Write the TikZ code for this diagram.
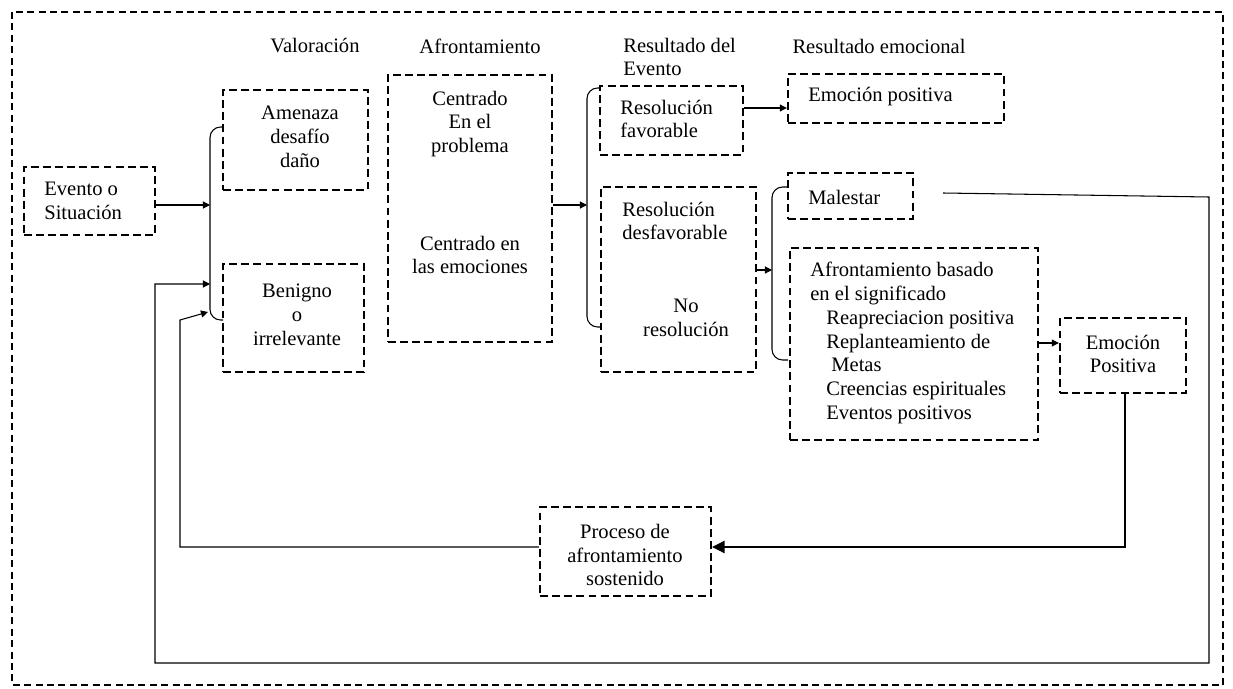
\documentclass[tikz,border=0pt]{standalone}
\usepackage{fontspec}
\setmainfont{Liberation Serif}
\usetikzlibrary{arrows.meta}
\begin{document}
\begin{tikzpicture}[x=0.02cm,y=-0.02cm,
  every node/.style={font=\fontsize{11.7pt}{13.6pt}\selectfont,inner sep=0pt},
  caja/.style={draw,line width=1.4pt,dash pattern=on 4.5pt off 2.4pt},
  linea/.style={line width=0.6pt},
  flecha/.style={linea,-{Triangle[length=4pt,width=4pt]}}]
\useasboundingbox (0,0) rectangle (1233,689);
\draw[line width=1.1pt,dash pattern=on 4pt off 2.5pt] (12,12) rectangle (1223,685);
% titulos
\node (valoracion) at (315,46) {Valoración};
\node (afrontamiento) at (480,46) {Afrontamiento};
\node[align=left,anchor=west] (resevento) at (623,57) {Resultado del\\Evento};
\node (resemocional) at (879,46) {Resultado emocional};
% cajas
\node[caja,minimum width=2.62cm,minimum height=1.36cm] (evento) at (89.5,201) {};
\node[caja,minimum width=2.9cm,minimum height=2cm] (amenaza) at (295.5,140) {};
\node[caja,minimum width=2.82cm,minimum height=2.16cm] (benigno) at (293.5,318) {};
\node[caja,minimum width=3.28cm,minimum height=5.34cm] (centrado) at (470,208.5) {};
\node[caja,minimum width=2.86cm,minimum height=1.38cm] (favorable) at (671.5,120.5) {};
\node[caja,minimum width=3.1cm,minimum height=3.7cm] (desfavorable) at (678.5,279.5) {};
\node[caja,minimum width=4.32cm,minimum height=0.98cm] (emocion) at (896,98.5) {};
\node[caja,minimum width=2.5cm,minimum height=0.92cm] (malestar) at (850.5,196) {};
\node[caja,minimum width=4.96cm,minimum height=3.84cm] (significado) at (914,344) {};
\node[caja,minimum width=2.52cm,minimum height=1.5cm] (positiva) at (1123,355.5) {};
\node[caja,minimum width=3.42cm,minimum height=1.78cm] (proceso) at (625.5,551.5) {};
% textos
\node[align=left,anchor=west] (tevento) at (44,201) {Evento o\\Situación};
\node[align=center] (tamenaza) at (300,137) {Amenaza\\desafío\\daño};
\node[align=center] (tbenigno) at (297,315) {Benigno\\o\\irrelevante};
\node[align=center] (tcentrado1) at (470,124) {Centrado\\En el\\problema};
\node[align=center] (tcentrado2) at (470,255) {Centrado en\\las emociones};
\node[align=left,anchor=west] (tfavorable) at (620,119) {Resolución\\favorable};
\node[align=left,anchor=west] (tdesfavorable) at (622,221) {Resolución\\desfavorable};
\node[align=center] (tnores) at (686,318) {No\\resolución};
\node[anchor=west] (temocion) at (808,97) {Emoción positiva};
\node[anchor=west] (tmalestar) at (808,197) {Malestar};
\node[align=left,anchor=west] (tsignificado) at (810,343) {Afrontamiento basado\\en el significado\\
  \hspace{0.32cm}Reapreciacion positiva\\\hspace{0.32cm}Replanteamiento de\\
  \hspace{0.42cm}Metas\\\hspace{0.32cm}Creencias espirituales\\\hspace{0.32cm}Eventos positivos};
\node[align=center] (tpositiva) at (1123,354) {Emoción\\Positiva};
\node[align=center] (tproceso) at (625,555) {Proceso de\\afrontamiento\\sostenido};
% llaves
\draw[linea,rounded corners=6pt] (223,127) -- (210,127) -- (210,320) -- (223,320);
\draw[linea,rounded corners=6pt] (600,88) -- (587,88) -- (587,327) -- (600,327);
\draw[linea,rounded corners=6pt] (788,187) -- (772,187) -- (772,360) -- (788,360);
\coordinate (l1) at (210,205);
\coordinate (l2) at (587,205);
\coordinate (l3) at (772,270);
\coordinate (m0) at (943,193);
\coordinate (r2) at (1125,547);
% flechas
\draw[flecha] (evento.east |- l1) -- (l1);
\draw[flecha] (centrado.east |- l2) -- (l2);
\draw[flecha] (favorable.east |- 0,108) -- (emocion.west |- 0,108);
\draw[flecha] (desfavorable.east |- l3) -- (l3);
\draw[flecha] (significado.east |- 0,343) -- (positiva.west |- 0,343);
\draw[flecha] (m0) -- (1209,197) -- (1209,663) -- (155,663) -- (155,284) -- (210,284);
\draw[linea,-{Triangle[length=7pt,width=7pt]}] (positiva.south -| r2) -- (r2) -- (proceso.east |- r2);
\draw[flecha] (proceso.west |- r2) -- (180,547) -- (180,320) -- (208,312);
\end{tikzpicture}
\end{document}
